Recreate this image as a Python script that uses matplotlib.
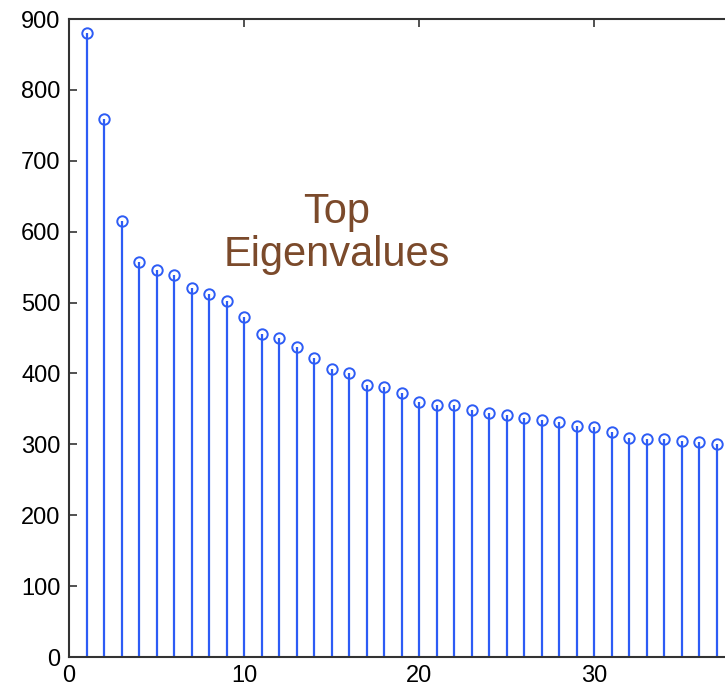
import numpy as np
import matplotlib.pyplot as plt

# eigenvalue index and magnitude
idx = np.arange(1, 41)
eigvals = [880, 759, 615, 557, 546, 539, 521, 512, 502, 480,
           455, 450, 437, 422, 406, 401, 383, 381, 373, 360,
           355, 356, 348, 344, 341, 337, 335, 332, 326, 324,
           318, 309, 307, 307, 305, 303, 300, 298, 296, 294]

label = "Top\nEigenvalues"

plt.rcParams['font.family'] = ['Liberation Sans', 'DejaVu Sans']

fig = plt.figure(figsize=(7.25, 6.94), dpi=100)
# axes runs past the right edge, as in the cropped original
ax = fig.add_axes([69 / 725, 37 / 694, 700 / 725, 638 / 694])

blue = '#2D5CF5'
markers, stems, base = ax.stem(idx, eigvals, basefmt=' ')
plt.setp(stems, color=blue, linewidth=1.6)
plt.setp(markers, color=blue, markerfacecolor='none', markersize=7.5, markeredgewidth=1.4)

ax.set_xlim(0, 40)
ax.set_ylim(0, 900)
ax.set_xticks([0, 10, 20, 30])
ax.set_yticks(np.arange(0, 901, 100))
ax.tick_params(direction='in', top=True, right=True, length=6, width=1.2,
               color='#333333', labelsize=17, pad=6)
for s in ax.spines.values():
    s.set_color('#333333')
    s.set_linewidth(1.5)

ax.text(15.3, 597, label, ha='center', va='center', fontsize=30,
        color='#7B4A2B', linespacing=1.1)

fig.savefig('out.png', dpi=100)
